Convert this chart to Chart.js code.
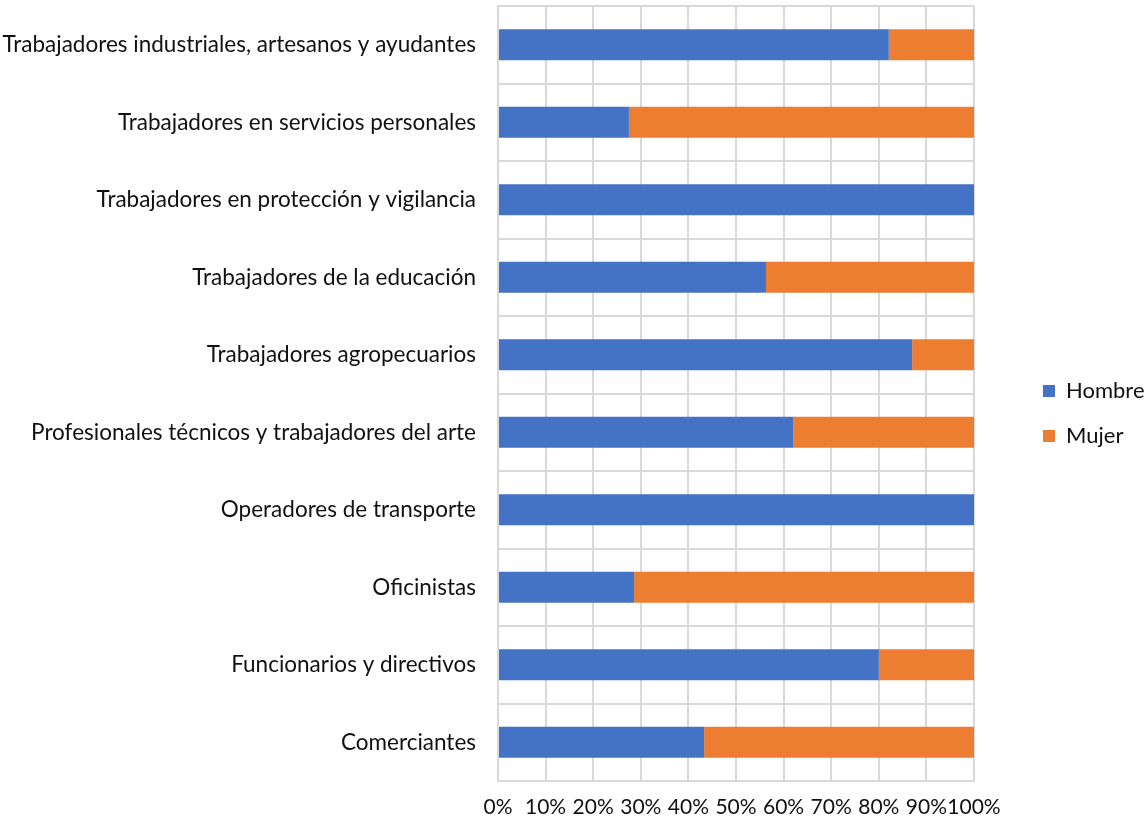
<!DOCTYPE html>
<html>
<head>
<meta charset="utf-8">
<script src="https://cdn.jsdelivr.net/npm/chart.js@4"></script>
<style>
  html, body { margin: 0; padding: 0; background: #fff; }
  #wrap { width: 1148px; height: 821px; position: relative; }
</style>
</head>
<body>
<div id="wrap"><canvas id="chart"></canvas></div>
<script>
// categorias (de arriba hacia abajo)
const categorias = [
    'Trabajadores industriales, artesanos y ayudantes',
    'Trabajadores en servicios personales',
    'Trabajadores en protección y vigilancia',
    'Trabajadores de la educación',
    'Trabajadores agropecuarios',
    'Profesionales técnicos y trabajadores del arte',
    'Operadores de transporte',
    'Oficinistas',
    'Funcionarios y directivos',
    'Comerciantes'
];
// porcentajes
const hombre = [82.1, 27.5, 100, 56.3, 87.0, 62.0, 100, 28.6, 80.0, 43.3];
const mujer = [17.9, 72.5, 0, 43.7, 13.0, 38.0, 0, 71.4, 20.0, 56.7];
const ticksX = [0, 10, 20, 30, 40, 50, 60, 70, 80, 90, 100];

const fuente = "Lato, 'Open Sans', sans-serif";
const gris = '#d9d9d9';
const texto = '#111';

// ancho fijo de la leyenda y separación respecto al gráfico
const anchoLeyenda = 174;
const separacionLeyenda = 46;
const ajusteLeyenda = {
    id: 'ajusteLeyenda',
    beforeInit: function (chart) {
        const fitOriginal = chart.legend.fit;
        chart.legend.fit = function () {
            fitOriginal.call(this);
            this.width = anchoLeyenda;
        };
    },
    afterLayout: function (chart) {
        chart.legend.left = chart.chartArea.right + separacionLeyenda;
    }
};

const ctx = document.getElementById('chart').getContext('2d');
const chart = new Chart(ctx, {
    type: 'bar',
    data: {
        labels: categorias,
        datasets: [
            {
                label: 'Hombre',
                data: hombre,
                backgroundColor: '#4472C4',
                barPercentage: 0.4,
                categoryPercentage: 1
            },
            {
                label: 'Mujer',
                data: mujer,
                backgroundColor: '#ED7D31',
                barPercentage: 0.4,
                categoryPercentage: 1
            }
        ]
    },
    plugins: [ajusteLeyenda],
    options: {
        indexAxis: 'y',
        responsive: true,
        maintainAspectRatio: false,
        animation: false,
        layout: { padding: { top: 6, right: 0, left: 0, bottom: 0 } },
        plugins: {
            legend: {
                position: 'right',
                labels: {
                    boxWidth: 12,
                    boxHeight: 12,
                    padding: 23,
                    color: texto,
                    font: { family: fuente, size: 22 }
                }
            },
            tooltip: { enabled: false }
        },
        scales: {
            x: {
                stacked: true,
                min: 0,
                max: 100,
                afterBuildTicks: function (scale) {
                    scale.ticks = ticksX.map(v => ({ value: v }));
                },
                afterFit: function (scale) {
                    scale.height = 40;
                },
                ticks: {
                    callback: v => v + '%',
                    color: texto,
                    padding: 14,
                    maxRotation: 0,
                    autoSkip: false,
                    font: { family: fuente, size: 21 }
                },
                grid: { color: gris, lineWidth: 2, drawTicks: false },
                border: { color: gris, width: 2 }
            },
            y: {
                stacked: true,
                afterFit: function (scale) {
                    scale.width = 498;
                    scale.paddingTop = 0;
                    scale.paddingBottom = 0;
                },
                ticks: {
                    color: texto,
                    padding: 22,
                    autoSkip: false,
                    font: { family: fuente, size: 22.5 }
                },
                grid: { color: gris, lineWidth: 2, drawTicks: false, offset: true },
                border: { color: gris, width: 2 }
            }
        }
    }
});
</script>
</body>
</html>
